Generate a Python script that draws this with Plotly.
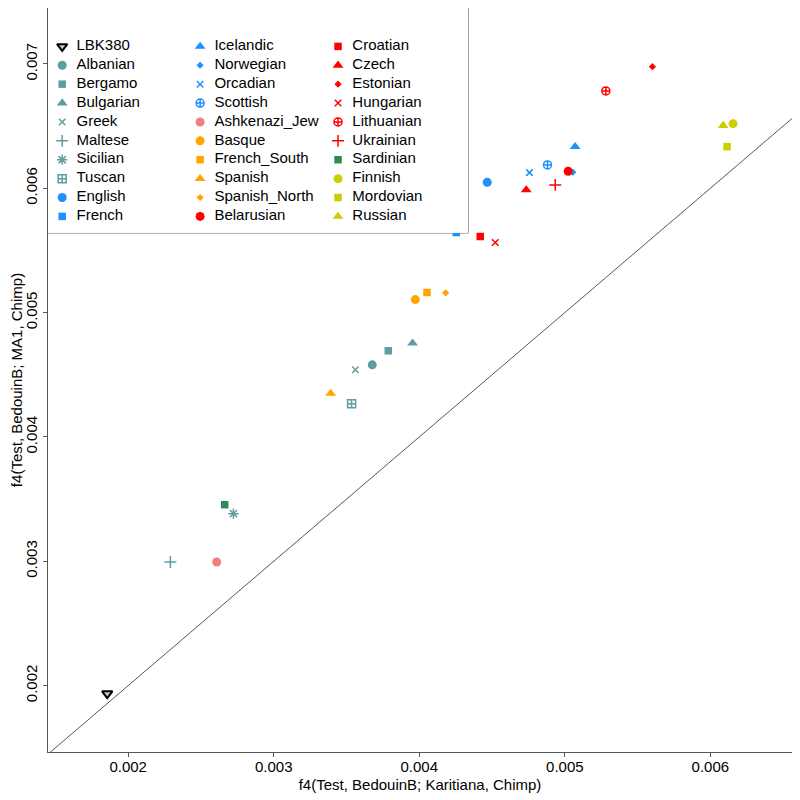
import plotly.graph_objects as go

# ---------------- data ----------------
populations = [
    "LBK380", "Albanian", "Bergamo", "Bulgarian", "Greek", "Maltese", "Sicilian", "Tuscan", "English", "French",
    "Icelandic", "Norwegian", "Orcadian", "Scottish", "Ashkenazi_Jew", "Basque", "French_South", "Spanish", "Spanish_North", "Belarusian",
    "Croatian", "Czech", "Estonian", "Hungarian", "Lithuanian", "Ukrainian", "Sardinian", "Finnish", "Mordovian", "Russian",
]
x_vals = [
    0.001856, 0.003677, 0.003787, 0.003954, 0.003561, 0.002290, 0.002723, 0.003535, 0.004467, 0.004254,
    0.005071, 0.005055, 0.004757, 0.004881, 0.002608, 0.003973, 0.004053, 0.003391, 0.004181, 0.005023,
    0.004419, 0.004735, 0.005602, 0.004522, 0.005282, 0.004934, 0.002663, 0.006156, 0.006115, 0.006088,
]
y_vals = [
    0.001936, 0.004580, 0.004693, 0.004754, 0.004540, 0.002994, 0.003383, 0.004267, 0.006048, 0.005644,
    0.006335, 0.006129, 0.006126, 0.006188, 0.002994, 0.005105, 0.005162, 0.004350, 0.005159, 0.006137,
    0.005612, 0.005987, 0.006978, 0.005564, 0.006783, 0.006027, 0.003455, 0.006520, 0.006335, 0.006504,
]
x_ticks = [0.002, 0.003, 0.004, 0.005, 0.006]
y_ticks = [0.002, 0.003, 0.004, 0.005, 0.006, 0.007]
x_title = "f4(Test, BedouinB; Karitiana, Chimp)"
y_title = "f4(Test, BedouinB; MA1, Chimp)"

# ---------------- styles ----------------
TEAL = "#5F9EA0"
BLUE = "#1E90FF"
ORANGE = "#FFA500"
RED = "#FF0000"
PINK = "#F08080"
GREEN = "#2E8B57"
OLIVE = "#CDCD00"

SYM = {
    "circle": ("circle", 9),
    "square": ("square", 7.5),
    "triangle": ("triangle-up", 9.5),
    "x": ("x-thin-open", 6.5),
    "plus": ("cross-thin-open", 8.5),
    "asterisk": ("asterisk-open", 8.5),
    "boxplus": ("square-cross-open", 8),
    "diamond": ("diamond", 5.5),
    "circleplus": ("circle-cross-open", 8),
    "down": ("triangle-down", 9),
}
style = {
    "LBK380": ("down", "#B4CCDC"),
    "Albanian": ("circle", TEAL), "Bergamo": ("square", TEAL), "Bulgarian": ("triangle", TEAL),
    "Greek": ("x", TEAL), "Maltese": ("plus", TEAL), "Sicilian": ("asterisk", TEAL),
    "Tuscan": ("boxplus", TEAL), "English": ("circle", BLUE), "French": ("square", BLUE),
    "Icelandic": ("triangle", BLUE), "Norwegian": ("diamond", BLUE), "Orcadian": ("x", BLUE),
    "Scottish": ("circleplus", BLUE), "Ashkenazi_Jew": ("circle", PINK), "Basque": ("circle", ORANGE),
    "French_South": ("square", ORANGE), "Spanish": ("triangle", ORANGE), "Spanish_North": ("diamond", ORANGE),
    "Belarusian": ("circle", RED), "Croatian": ("square", RED), "Czech": ("triangle", RED),
    "Estonian": ("diamond", RED), "Hungarian": ("x", RED), "Lithuanian": ("circleplus", RED),
    "Ukrainian": ("plus", RED), "Sardinian": ("square", GREEN), "Finnish": ("circle", OLIVE),
    "Mordovian": ("square", OLIVE), "Russian": ("triangle", OLIVE),
}

symbols, colors, sizes, lcolors, lwidths = [], [], [], [], []
for p in populations:
    key, col = style[p]
    sym, sz = SYM[key]
    symbols.append(sym)
    colors.append(col)
    sizes.append(sz)
    if p == "LBK380":
        lcolors.append("#000000")
        lwidths.append(2)
    elif sym.endswith("-open"):
        lcolors.append(col)
        lwidths.append(1.5)
    else:
        lcolors.append(col)
        lwidths.append(0)

X_RANGE = [0.001449, 0.006561]
Y_RANGE = [0.001466, 0.00745]
FONT = "Liberation Sans, Arial, Helvetica, sans-serif"
AXCOL = "#555555"

fig = go.Figure()

# diagonal y = x across the whole panel
lo = min(X_RANGE[0], Y_RANGE[0]) - 0.001
hi = max(X_RANGE[1], Y_RANGE[1]) + 0.001
fig.add_trace(go.Scatter(x=[lo, hi], y=[lo, hi], mode="lines",
                         line=dict(color="#444444", width=0.9),
                         showlegend=False, hoverinfo="skip"))

marker_style = dict(symbol=symbols, color=colors, size=sizes, opacity=1,
                    line=dict(color=lcolors, width=lwidths))

# data points
fig.add_trace(go.Scatter(
    x=x_vals, y=y_vals, mode="markers", text=populations,
    marker=marker_style,
    showlegend=False, hovertemplate="%{text}<extra></extra>",
))

# legend drawn as a 3-column key in an auxiliary axis pair
n_rows = 10
leg_col = [i // n_rows for i in range(len(populations))]
leg_row = [i % n_rows for i in range(len(populations))]
text_gap = 0.104
fig.add_trace(go.Scatter(
    x=leg_col, y=leg_row, xaxis="x2", yaxis="y2", mode="markers",
    marker=marker_style,
    showlegend=False, hoverinfo="skip", cliponaxis=False,
))
fig.add_trace(go.Scatter(
    x=[c + text_gap for c in leg_col], y=leg_row, xaxis="x2", yaxis="y2",
    mode="text", text=populations, textposition="middle right",
    textfont=dict(family=FONT, size=15, color="#000000"),
    showlegend=False, hoverinfo="skip", cliponaxis=False,
))

fig.add_shape(type="rect", xref="x2 domain", yref="y2 domain", x0=0, x1=1, y0=0, y1=1,
              line=dict(color=AXCOL, width=1), fillcolor="white", layer="below")

axis_common = dict(
    showline=True, linecolor=AXCOL, linewidth=1, mirror=True,
    showgrid=False, zeroline=False, ticks="outside", ticklen=4, tickcolor=AXCOL,
    tickformat=".3f", tickfont=dict(family=FONT, size=15, color="#000000"),
)

# the page body adds an 8px margin, so the figure is 792px and margins are offset
fig.update_layout(
    width=792, height=792,
    margin=dict(l=40, r=8, t=0, b=48),
    paper_bgcolor="white", plot_bgcolor="white",
    font=dict(family=FONT, size=15, color="#000000"),
    showlegend=False,
    xaxis=dict(range=X_RANGE, tickvals=x_ticks, automargin=False, ticklabelstandoff=-3,
               title=dict(text=x_title, font=dict(family=FONT, size=15), standoff=5),
               **axis_common),
    yaxis=dict(range=Y_RANGE, tickvals=y_ticks, tickangle=-90, automargin=False,
               title=dict(text=y_title, font=dict(family=FONT, size=15), standoff=8),
               **axis_common),
    xaxis2=dict(domain=[0, 0.5648], range=[-0.1029, 2.944], anchor="y2", visible=False, fixedrange=True),
    yaxis2=dict(domain=[0.6977, 1], range=[9.873, -2.032], anchor="x2", visible=False, fixedrange=True),
)

fig.write_html("out.html")
